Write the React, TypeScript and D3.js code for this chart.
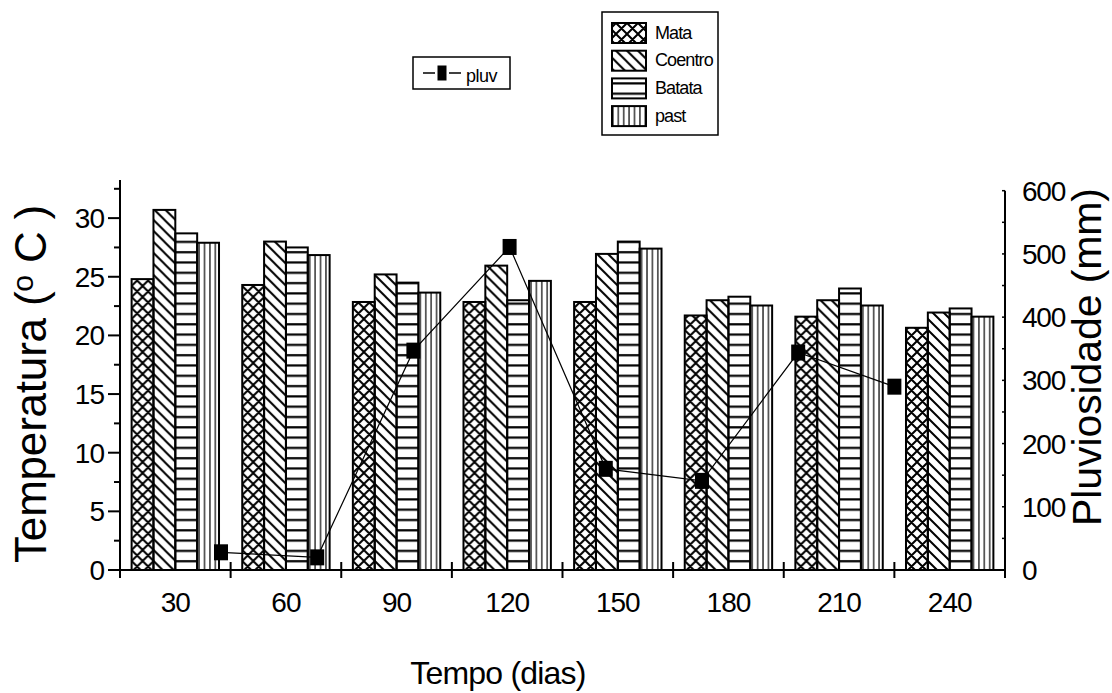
import React from 'react';
import * as d3 from 'd3';

const categories = ['30', '60', '90', '120', '150', '180', '210', '240'];
const seriesNames = ['Mata', 'Coentro', 'Batata', 'past'];
const mata = [24.8, 24.3, 22.85, 22.85, 22.85, 21.7, 21.6, 20.65];
const coentro = [30.7, 28.0, 25.2, 25.95, 26.95, 23.0, 23.0, 21.95];
const batata = [28.7, 27.5, 24.5, 23.0, 28.0, 23.3, 24.0, 22.3];
const past = [27.9, 26.85, 23.65, 24.65, 27.4, 22.55, 22.55, 21.6];
const pluvDays = [30, 60, 90, 120, 150, 180, 210, 240];
const pluv = [28, 20, 347, 511, 160, 141, 344, 290];
const tempTicks = [0, 5, 10, 15, 20, 25, 30];
const pluvTicks = [0, 100, 200, 300, 400, 500, 600];

const seriesValues = [mata, coentro, batata, past];
const patternIds = ['pat-mata', 'pat-coentro', 'pat-batata', 'pat-past'];

const W = 1112, H = 693;
const left = 120, right = 1005, base = 570;
const FONT = '"Liberation Sans", Arial, sans-serif';

const App = () => {
  const x = d3.scaleBand().domain(categories).range([left, right]).padding(0);
  const groupW = x.bandwidth() * 0.79;
  const xs = d3.scaleBand().domain(seriesNames).range([0, groupW]).padding(0);
  const yL = d3.scaleLinear().domain([0, 33.25]).range([base, 180]);
  const yR = d3.scaleLinear().domain([0, 600]).range([base, 190.7]);
  const xP = d3.scaleLinear().domain([-1.5, 274.5]).range([left, right]);

  const minorL = d3.range(0, 33.25, 2.5);
  const minorR = d3.range(0, 601, 50);
  const xTicks = [...categories.map(c => x(c)), x.range()[1]];

  const line = d3.line().x((d, i) => xP(pluvDays[i])).y(d => yR(d));

  return (
    <svg width={W} height={H} style={{ position: 'absolute', left: 0, top: 0, background: '#fff' }} fontFamily={FONT}>
      <defs>
        <pattern id="pat-mata" width="11" height="11" patternUnits="userSpaceOnUse">
          <path d="M-1,1 l2,-2 M0,11 l11,-11 M10,12 l2,-2 M-1,10 l2,2 M0,0 l11,11 M10,-1 l2,2" stroke="#000" strokeWidth="2" />
        </pattern>
        <pattern id="pat-coentro" width="11" height="11" patternUnits="userSpaceOnUse">
          <path d="M-1,10 l2,2 M0,0 l11,11 M10,-1 l2,2" stroke="#000" strokeWidth="2" />
        </pattern>
        <pattern id="pat-batata" width="10" height="10.3" patternUnits="userSpaceOnUse">
          <line x1="0" x2="10" y1="5" y2="5" stroke="#000" strokeWidth="2.2" />
        </pattern>
        <pattern id="pat-past" width="5.4" height="10" patternUnits="userSpaceOnUse">
          <line x1="2.7" x2="2.7" y1="0" y2="10" stroke="#000" strokeWidth="1.2" />
        </pattern>
      </defs>

      {/* barras */}
      {categories.map((c, i) => (
        <g key={c} transform={`translate(${x(c) + (x.bandwidth() - groupW) / 2},0)`}>
          {seriesNames.map((s, j) => (
            <rect key={s} x={xs(s)} y={yL(seriesValues[j][i])} width={xs.bandwidth()}
              height={base - yL(seriesValues[j][i])} fill={`url(#${patternIds[j]})`}
              stroke="#000" strokeWidth="2" />
          ))}
        </g>
      ))}

      {/* eixos */}
      <line x1={left} x2={left} y1={180} y2={base} stroke="#000" strokeWidth="2" />
      <line x1={right} x2={right} y1={yR(600)} y2={base} stroke="#000" strokeWidth="2" />
      <line x1={left} x2={right} y1={base} y2={base} stroke="#000" strokeWidth="2.2" />

      {minorL.map(v => (
        <line key={v} x1={left - (v % 5 === 0 ? 12 : 6)} x2={left} y1={yL(v)} y2={yL(v)} stroke="#000" strokeWidth="2" />
      ))}
      {tempTicks.map(v => (
        <text key={v} x={104} y={yL(v)} dy="0.36em" textAnchor="end" fontSize="28" letterSpacing="-1">{v}</text>
      ))}

      {minorR.map(v => (
        <line key={v} x1={right - 3} x2={right} y1={yR(v)} y2={yR(v)} stroke="#000" strokeWidth="1.5" />
      ))}
      {pluvTicks.map(v => (
        <text key={v} x={1022} y={yR(v)} dy="0.36em" textAnchor="start" fontSize="28" letterSpacing="-1.2">{v}</text>
      ))}

      {xTicks.map((t, i) => (
        <line key={i} x1={t} x2={t} y1={base - 8} y2={base + 8} stroke="#000" strokeWidth="2" />
      ))}
      {categories.map(c => (
        <text key={c} x={x(c) + x.bandwidth() / 2} y={611.5} textAnchor="middle" fontSize="28" letterSpacing="-1">{c}</text>
      ))}

      {/* títulos */}
      <text x={498} y={684} textAnchor="middle" fontSize="32" letterSpacing="-0.8">Tempo (dias)</text>
      <text transform={`translate(46,384) rotate(-90)`} textAnchor="middle" fontSize="44" letterSpacing="-0.2">
        Temperatura (<tspan fontSize="30" dy="-13">o</tspan><tspan dy="13"> C )</tspan>
      </text>
      <text transform={`translate(1101,357) rotate(-90)`} textAnchor="middle" fontSize="41" letterSpacing="-0.1">Pluviosidade (mm)</text>

      {/* pluviosidade */}
      <path d={line(pluv)} fill="none" stroke="#000" strokeWidth="1.2" />
      {pluv.map((v, i) => (
        <rect key={i} x={xP(pluvDays[i]) - 7} y={yR(v) - 8} width={14} height={16} fill="#000" />
      ))}

      {/* legendas */}
      <rect x={413} y={57} width={97} height={32} fill="#fff" stroke="#000" strokeWidth="1.5" />
      <line x1={423} x2={435} y1={73} y2={73} stroke="#000" strokeWidth="1.5" />
      <line x1={449} x2={461} y1={73} y2={73} stroke="#000" strokeWidth="1.5" />
      <rect x={437.5} y={65.5} width={9} height={15} fill="#000" />
      <text x={466} y={82} fontSize="18" letterSpacing="-0.5">pluv</text>

      <rect x={602} y={12} width={116} height={123} fill="#fff" stroke="#000" strokeWidth="1.5" />
      {seriesNames.map((s, j) => (
        <g key={s} transform={`translate(0,${23 + j * 27.7})`}>
          <rect x={612} y={0} width={34} height={20} fill={`url(#${patternIds[j]})`} stroke="#000" strokeWidth="2" />
          <text x={655} y={15.5} fontSize="18" letterSpacing="-0.9">{s}</text>
        </g>
      ))}
    </svg>
  );
};

export default App;
